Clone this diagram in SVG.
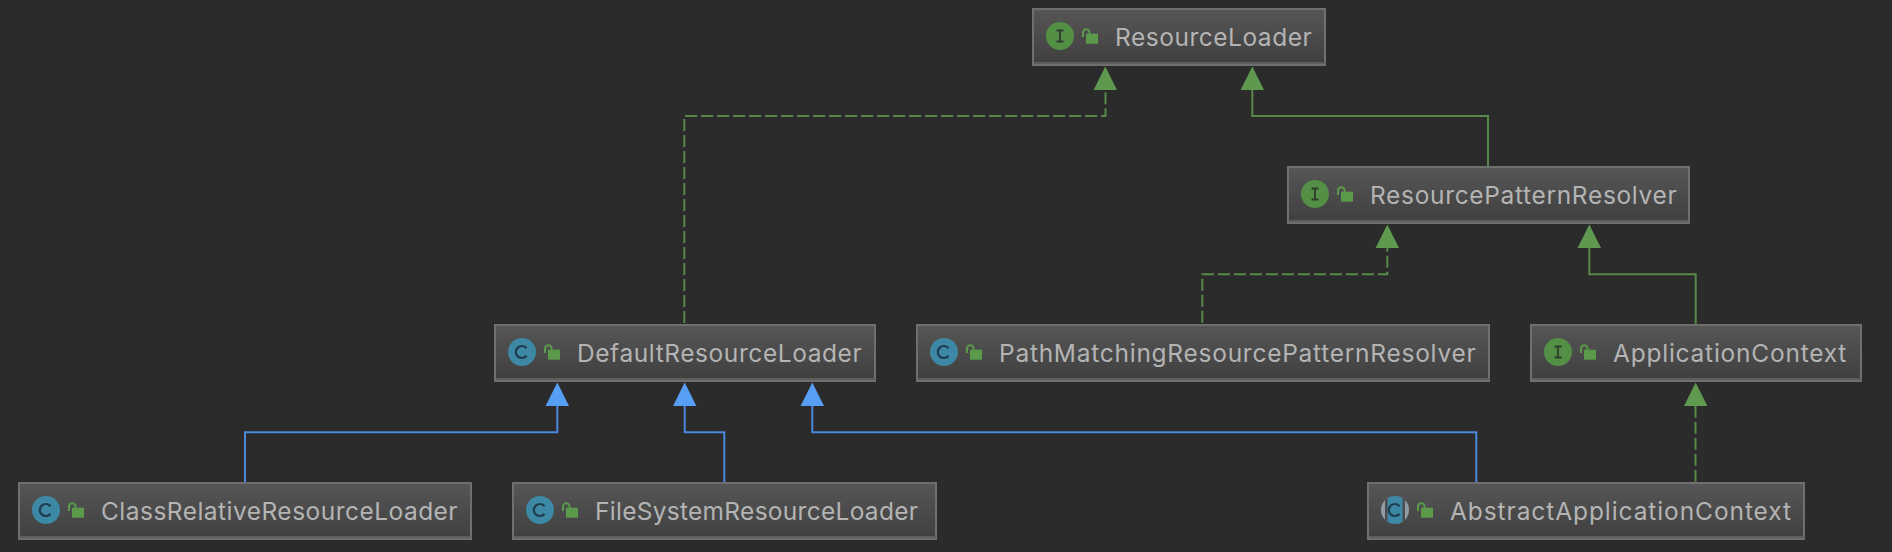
<svg xmlns="http://www.w3.org/2000/svg" width="1892" height="552" viewBox="0 0 1892 552">
<style>
.box{fill:url(#g);stroke:#6f6f6f;stroke-width:2}
.btm{stroke:#5d5d5d;stroke-width:2}
.t{font-family:Inter,"Noto Sans",sans-serif;font-size:24.5px;fill:#b4b4b4}
.gn{fill:none;stroke:#578a48;stroke-width:2}
.bl{fill:none;stroke:#4a88dd;stroke-width:2}
.ds{stroke-dasharray:12 4}
.ga{fill:#5f9950}
.ba{fill:#579ef5}
</style>
<defs>
<linearGradient id="g" x1="0" y1="0" x2="0" y2="1"><stop offset="0" stop-color="#565656"/><stop offset="1" stop-color="#3f3f3f"/></linearGradient>
<clipPath id="cir"><circle cx="28" cy="28" r="14"/></clipPath>
<g id="lock"><path d="M51 29V24.500a3.300 3.300 0 0 1 6.600 0V26" fill="none" stroke="#5a9a4a" stroke-width="2"/><rect x="54" y="25.700" width="12" height="10" fill="#5a9a4a"/></g>
<g id="ci"><circle cx="28" cy="28" r="14" fill="#538f45"/><path d="M24.500 22.500h7M24.500 33.500h7M28 22.500v11" fill="none" stroke="#2f3c2c" stroke-width="1.800"/></g>
<g id="cc"><circle cx="28" cy="28" r="14" fill="#3d88a5"/><path d="M32.500 24.300a6 6 0 1 0 0 7.400" fill="none" stroke="#1f3c4e" stroke-width="2.200"/></g>
<g id="ca"><g clip-path="url(#cir)"><rect x="14" y="14" width="28" height="28" fill="#8f9ca5"/><rect x="18" y="14" width="20" height="28" fill="#4c4c4c"/><rect x="20.500" y="14" width="15" height="28" fill="#3d88a5"/></g><path d="M32.500 24.300a6 6 0 1 0 0 7.400" fill="none" stroke="#1f3c4e" stroke-width="2.200"/></g>
</defs>
<rect width="1892" height="552" fill="#2b2b2b"/>
<g id="connectors">
<path class="gn ds" d="M1105.500 92.300V116H684.300V324"/>
<path class="gn" d="M1488 166V116H1252.300V90"/>
<path class="gn ds" d="M1387.300 239.700V274.300H1202.300V324"/>
<path class="gn" d="M1695.700 324V274.300H1589.300V248"/>
<path class="gn ds" d="M1695.500 405.700V482"/>
<path class="bl" d="M245 482V432.300H557.300V406"/>
<path class="bl" d="M724.300 482V432.300H684.700V406"/>
<path class="bl" d="M1476.300 482V432.300H812.300V406"/>
<path class="ga" d="M1105.300 66.500l11.700 23.500h-23.400z"/>
<path class="ga" d="M1252.300 66.500l11.700 23.500h-23.400z"/>
<path class="ga" d="M1387.300 224.500l11.700 23.500h-23.400z"/>
<path class="ga" d="M1589.300 224.500l11.700 23.500h-23.400z"/>
<path class="ga" d="M1695.700 382.500l11.700 23.500h-23.400z"/>
<path class="ba" d="M557.300 382.500l11.700 23.500h-23.400z"/>
<path class="ba" d="M684.700 382.500l11.700 23.500h-23.400z"/>
<path class="ba" d="M812.300 382.500l11.700 23.500h-23.400z"/>
</g>
<g id="ResourceLoader" transform="translate(1032 8)"><rect class="box" x="1" y="1" width="292" height="56"/><path class="btm" d="M2 55H293"/><use href="#ci"/><use href="#lock"/><text class="t" x="83" y="38" textLength="196.700">ResourceLoader</text></g>
<g id="ResourcePatternResolver" transform="translate(1287 166)"><rect class="box" x="1" y="1" width="401" height="56"/><path class="btm" d="M2 55H402"/><use href="#ci"/><use href="#lock"/><text class="t" x="83" y="38" textLength="306.700">ResourcePatternResolver</text></g>
<g id="DefaultResourceLoader" transform="translate(494 324)"><rect class="box" x="1" y="1" width="380" height="56"/><path class="btm" d="M2 55H381"/><use href="#cc"/><use href="#lock"/><text class="t" x="83" y="38" textLength="284.700">DefaultResourceLoader</text></g>
<g id="PathMatchingResourcePatternResolver" transform="translate(916 324)"><rect class="box" x="1" y="1" width="572" height="56"/><path class="btm" d="M2 55H573"/><use href="#cc"/><use href="#lock"/><text class="t" x="83" y="38" textLength="476.700">PathMatchingResourcePatternResolver</text></g>
<g id="ApplicationContext" transform="translate(1530 324)"><rect class="box" x="1" y="1" width="330" height="56"/><path class="btm" d="M2 55H331"/><use href="#ci"/><use href="#lock"/><text class="t" x="83" y="38" textLength="233.300">ApplicationContext</text></g>
<g id="ClassRelativeResourceLoader" transform="translate(18 482)"><rect class="box" x="1" y="1" width="452" height="56"/><path class="btm" d="M2 55H453"/><use href="#cc"/><use href="#lock"/><text class="t" x="83" y="38" textLength="356.600">ClassRelativeResourceLoader</text></g>
<g id="FileSystemResourceLoader" transform="translate(512 482)"><rect class="box" x="1" y="1" width="423" height="56"/><path class="btm" d="M2 55H424"/><use href="#cc"/><use href="#lock"/><text class="t" x="83" y="38" textLength="323">FileSystemResourceLoader</text></g>
<g id="AbstractApplicationContext" transform="translate(1367 482)"><rect class="box" x="1" y="1" width="436" height="56"/><path class="btm" d="M2 55H437"/><use href="#ca"/><use href="#lock"/><text class="t" x="83" y="38" textLength="341">AbstractApplicationContext</text></g>
</svg>
